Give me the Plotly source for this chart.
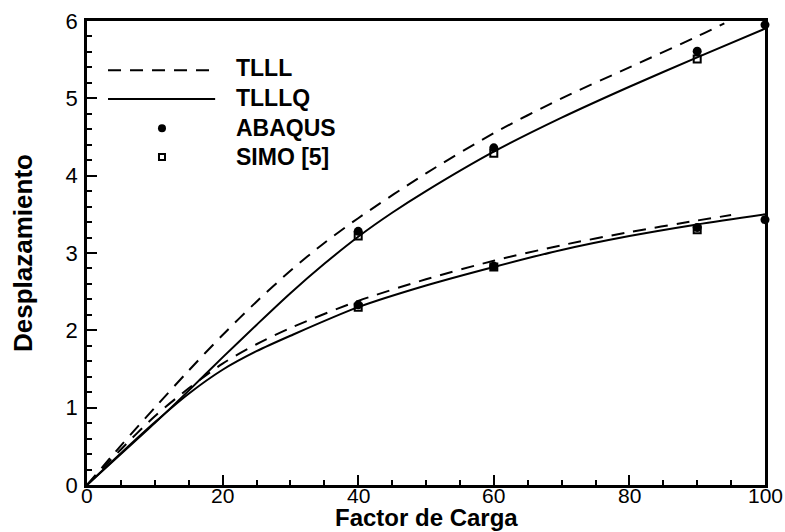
import plotly.graph_objects as go

# ---- data ----
x_tlll_up = [0, 5, 10, 15, 20, 25, 30, 35, 40, 50, 60, 70, 80, 90, 94]
y_tlll_up = [0, 0.51, 1.0, 1.48, 1.94, 2.37, 2.77, 3.13, 3.45, 4.03, 4.55, 5.0, 5.4, 5.8, 5.97]

x_tlllq_up = [0, 5, 10, 15, 20, 25, 30, 35, 40, 45, 50, 60, 70, 80, 90, 100]
y_tlllq_up = [0, 0.4, 0.8, 1.22, 1.65, 2.07, 2.48, 2.86, 3.21, 3.52, 3.8, 4.31, 4.75, 5.15, 5.53, 5.9]

x_tlll_lo = [0, 5, 10, 15, 20, 25, 30, 40, 50, 60, 70, 80, 90, 95]
y_tlll_lo = [0, 0.46, 0.89, 1.25, 1.57, 1.82, 2.03, 2.38, 2.66, 2.9, 3.1, 3.27, 3.42, 3.49]

x_tlllq_lo = [0, 5, 10, 15, 20, 25, 30, 40, 50, 60, 70, 80, 90, 100]
y_tlllq_lo = [0, 0.41, 0.81, 1.18, 1.49, 1.73, 1.93, 2.3, 2.58, 2.82, 3.04, 3.22, 3.37, 3.5]

x_abaqus = [40, 60, 90, 100, 40, 60, 90, 100]
y_abaqus = [3.28, 4.36, 5.61, 5.95, 2.33, 2.83, 3.33, 3.43]

x_simo = [40, 60, 90, 40, 60, 90]
y_simo = [3.22, 4.29, 5.51, 2.30, 2.82, 3.30]

legend_labels = ["TLLL", "TLLLQ", "ABAQUS", "SIMO [5]"]
x_title = "Factor de Carga"
y_title = "Desplazamiento"

x_ticks = [0, 20, 40, 60, 80, 100]
y_ticks = [0, 1, 2, 3, 4, 5, 6]

FONT = "Arial, Liberation Sans, sans-serif"
DASH = "13px,9px"

fig = go.Figure()
for xs, ys, dash in [(x_tlll_up, y_tlll_up, DASH), (x_tlllq_up, y_tlllq_up, "solid"),
                     (x_tlll_lo, y_tlll_lo, DASH), (x_tlllq_lo, y_tlllq_lo, "solid")]:
    fig.add_trace(go.Scatter(x=xs, y=ys, mode="lines",
                             line=dict(color="black", width=2, dash=dash, shape="spline", smoothing=0.8),
                             showlegend=False, hoverinfo="skip"))

fig.add_trace(go.Scatter(x=x_abaqus, y=y_abaqus, mode="markers", cliponaxis=False,
                         marker=dict(symbol="circle", size=9, color="black"), showlegend=False))
fig.add_trace(go.Scatter(x=x_simo, y=y_simo, mode="markers", cliponaxis=False,
                         marker=dict(symbol="square-open", size=7, color="black", line=dict(width=2, color="black")),
                         showlegend=False))

# ---- manual legend (paper coords) ----
shapes = [
    dict(type="line", xref="paper", yref="paper", x0=0.031, x1=0.189, y0=0.894, y1=0.894,
         line=dict(color="black", width=2, dash=DASH)),
    dict(type="line", xref="paper", yref="paper", x0=0.031, x1=0.189, y0=0.832, y1=0.832,
         line=dict(color="black", width=2)),
    dict(type="circle", xref="paper", yref="paper", xsizemode="pixel", ysizemode="pixel",
         xanchor=0.1106, yanchor=0.769, x0=-4, x1=4, y0=-4, y1=4,
         fillcolor="black", line=dict(color="black", width=0)),
    dict(type="rect", xref="paper", yref="paper", xsizemode="pixel", ysizemode="pixel",
         xanchor=0.1106, yanchor=0.707, x0=-3, x1=3, y0=-3, y1=3,
         fillcolor="white", line=dict(color="black", width=2)),
]
ann_y = [0.899, 0.834, 0.769, 0.707]
annotations = [dict(xref="paper", yref="paper", x=0.2168, y=yy, text=f"<b>{t}</b>", showarrow=False,
                    xanchor="left", yanchor="middle", font=dict(family=FONT, size=23, color="black"))
               for t, yy in zip(legend_labels, ann_y)]
# x tick labels placed at the axis tick values (closer to the axis than Plotly's default)
annotations += [dict(xref="x", yref="paper", x=v, y=-0.0237, text=str(v), showarrow=False,
                     xanchor="center", yanchor="middle", font=dict(family=FONT, size=21, color="black"))
                for v in x_ticks]
annotations.append(dict(xref="paper", yref="paper", x=0.5, y=-0.0711, text=f"<b>{x_title}</b>",
                        showarrow=False, xanchor="center", yanchor="middle",
                        font=dict(family=FONT, size=24, color="black")))
annotations.append(dict(xref="paper", yref="paper", x=-0.0944, y=0.5, text=f"<b>{y_title}</b>",
                        showarrow=False, xanchor="center", yanchor="middle", textangle=-90,
                        font=dict(family=FONT, size=26, color="black")))

axis_common = dict(showgrid=False, zeroline=False, showline=True, linecolor="black", linewidth=2.5,
                   mirror=True, ticks="inside", ticklen=10, tickwidth=2, tickcolor="black", automargin=False,
                   tickfont=dict(family=FONT, size=22, color="black"))

fig.update_layout(
    width=785, height=532,
    margin=dict(l=87, r=20, t=21, b=47),
    paper_bgcolor="white", plot_bgcolor="white",
    shapes=shapes, annotations=annotations,
    xaxis=dict(range=[0, 100], tickvals=x_ticks, showticklabels=False,
               minor=dict(ticks="inside", ticklen=5, tickwidth=1.5, tickcolor="black", dtick=5, showgrid=False),
               **axis_common),
    yaxis=dict(range=[0, 6], tickvals=y_ticks, ticktext=[str(v) for v in y_ticks], ticklabelstandoff=2,
               minor=dict(ticks="inside", ticklen=5, tickwidth=1.5, tickcolor="black", dtick=0.2, showgrid=False),
               **axis_common),
)

fig.write_html("out.html")
